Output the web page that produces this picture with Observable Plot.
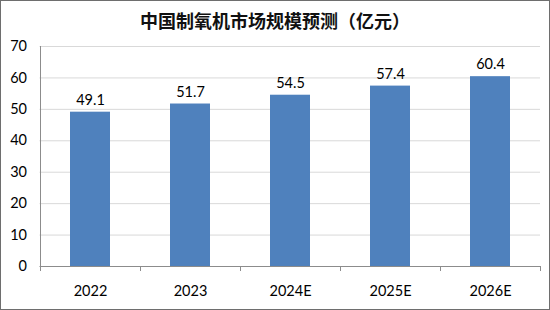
<!DOCTYPE html>
<html>
<head>
<meta charset="utf-8">
<script src="https://cdn.jsdelivr.net/npm/d3@7"></script>
<script src="https://cdn.jsdelivr.net/npm/@observablehq/plot@0.6"></script>
<style>
  html, body { margin: 0; padding: 0; background: #fff; }
  #wrap { position: relative; width: 550px; height: 310px; box-sizing: border-box; border: 1px solid #6e6e6e; background: #fff; overflow: hidden; }
  #title { position: absolute; top: 7px; left: 0; width: 100%; text-align: center; font-family: "Noto Sans CJK SC", sans-serif; font-size: 18px; font-weight: 700; color: #111; line-height: 24px; }
  #chart { position: absolute; left: 0; top: 0; }
</style>
</head>
<body>
<div id="wrap">
  <div id="chart"></div>
  <div id="title">中国制氧机市场规模预测（亿元）</div>
</div>
<script>
const categories = ["2022", "2023", "2024E", "2025E", "2026E"];
const values = [49.1, 51.7, 54.5, 57.4, 60.4];
const yTicks = [0, 10, 20, 30, 40, 50, 60, 70];

const data = categories.map((c, i) => ({category: c, value: values[i]}));
const font = "Lato, 'Liberation Sans', sans-serif";

const chart = Plot.plot({
  width: 548,
  height: 308,
  marginLeft: 38.5,
  marginRight: 9,
  marginTop: 45,
  marginBottom: 43,
  style: {fontFamily: font, fontSize: "14.5px", color: "#000", background: "transparent"},
  x: {domain: categories, paddingInner: 0.6, paddingOuter: 0.3, label: null},
  y: {domain: [0, 70], ticks: yTicks, label: null},
  marks: [
    Plot.gridY(yTicks.filter(t => t > 0), {stroke: "#d9d9d9", strokeOpacity: 1, strokeWidth: 1}),
    Plot.barY(data, {x: "category", y: "value", fill: "#4f81bd"}),
    Plot.ruleY([0], {stroke: "#8c8c8c", strokeWidth: 1}),
    Plot.ruleX([categories[0]], {x: d => d, dx: -50, y1: -1.6, y2: 70, stroke: "#8c8c8c"}),
    Plot.ruleX(categories.slice(1), {x: d => d, dx: -50, y1: 0, y2: -1.6, stroke: "#8c8c8c"}),
    Plot.ruleX([categories[categories.length - 1]], {x: d => d, dx: 50, y1: 0, y2: -1.6, stroke: "#8c8c8c"}),
    Plot.text(data, {x: "category", y: "value", text: d => d.value.toFixed(1), dy: -12, fontSize: 14.5, fill: "#000"}),
    Plot.axisY({ticks: yTicks, tickSize: 0, tickPadding: 13, fontSize: 14.5, fill: "#000", label: null}),
    Plot.axisX({tickSize: 0, tickPadding: 19, fontSize: 14.5, fill: "#000", label: null})
  ]
});
document.getElementById("chart").appendChild(chart);
</script>
</body>
</html>
